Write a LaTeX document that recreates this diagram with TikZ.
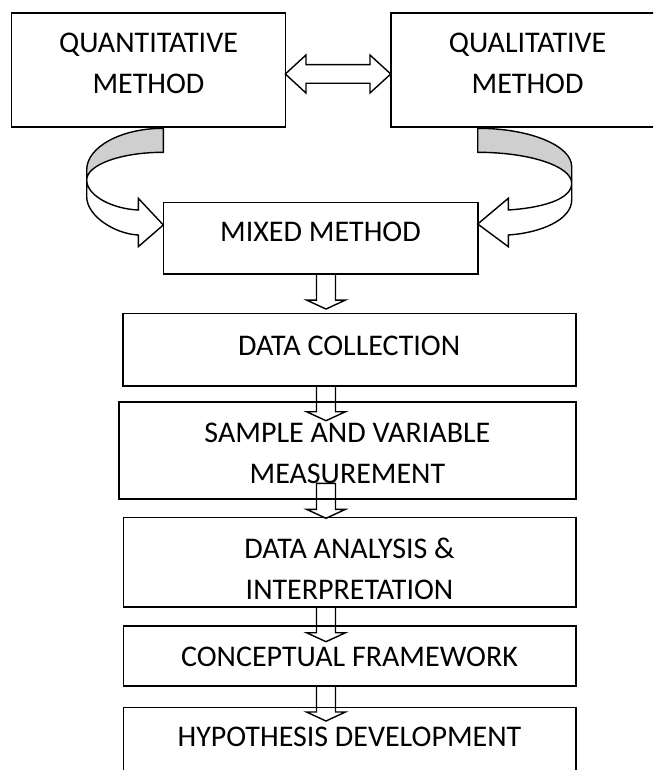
\documentclass[tikz,border=0pt]{standalone}
\usepackage{fontspec}
\setmainfont{Carlito}
\usetikzlibrary{calc}
\usetikzlibrary{positioning}

\tikzset{
  stage/.style={draw, line width=1.6pt, inner sep=0pt, outer sep=0pt},
  stagetext/.style={font=\fontsize{30}{41}\selectfont, align=center, inner sep=0pt},
  blockarrow/.style={draw, line width=1.4pt, line join=miter},
  foldback/.style={draw, line width=1.4pt, fill=gray!38},
  foldfront/.style={draw, line width=1.4pt, fill=white}
}

\begin{document}
\begin{tikzpicture}[x=1pt, y=-1pt]
    \clip (0,0) rectangle (653,770);
    % boxes
    \node[stage, minimum width=273.7pt, minimum height=114pt] (quant) at (148.5,70.3) {};
    \node[stage, minimum width=273.7pt, minimum height=114pt] (qual) at (527.6,70.3) {};
    \node[stage, minimum width=314.4pt, minimum height=71.7pt] (mixed) at (320.5,238.2) {};
    \node[stage, minimum width=453pt, minimum height=72.4pt] (collect) at (349.2,349.5) {};
    \node[stage, minimum width=456.7pt, minimum height=97pt] (sample) at (347.4,450.2) {};
    \node[stage, minimum width=452.4pt, minimum height=89.4pt] (analysis) at (349.5,562) {};
    \node[stage, minimum width=452.4pt, minimum height=60pt] (concept) at (349.5,656) {};
    \node[stage, minimum width=452.4pt, minimum height=90pt] (hypo) at (349.5,752.3) {};
    % texts, top aligned
    \node[stagetext, below=19.4pt of quant.north] (quantlbl) {QUANTITATIVE\\METHOD};
    \node[stagetext, below=19.4pt of qual.north] (quallbl) {QUALITATIVE\\METHOD};
    \node[stagetext, below=19.1pt of mixed.north] (mixedlbl) {MIXED METHOD};
    \node[stagetext, below=22.4pt of collect.north] (collectlbl) {DATA COLLECTION};
    \node[stagetext, below=21pt of sample.north] (samplelbl) {SAMPLE AND VARIABLE\\MEASUREMENT};
    \node[stagetext, below=20.4pt of analysis.north] (analysislbl) {DATA ANALYSIS \&\\INTERPRETATION};
    \node[stagetext, below=20.4pt of concept.north] (conceptlbl) {CONCEPTUAL FRAMEWORK};
    \node[stagetext, below=19.1pt of hypo.north] (hypolbl) {HYPOTHESIS DEVELOPMENT};
    % two-way arrow
    \coordinate (dl) at ([yshift=-3.7pt]quant.east);
    \coordinate (dr) at ([yshift=-3.7pt]qual.west);
    \draw[blockarrow] (dl) -- ++(20.6,-19) -- ++(0,9.7) -- ($(dr)+(-20.8,-9.3)$) -- ++(0,-9.7)
        -- (dr) -- ++(-20.8,19) -- ++(0,-9.7) -- ($(dl)+(20.6,9.3)$) -- ++(0,9.7) -- cycle;
    % curved arrows into the mixed method
    \coordinate (ltail) at ([yshift=-1pt]quant.south -| mixed.west);
    \coordinate (ltip) at ([yshift=13.2pt]mixed.west);
    \coordinate (rtail) at ([yshift=-1pt]qual.south -| mixed.east);
    \coordinate (rtip) at ([yshift=14.2pt]mixed.east);
    \draw[foldback] (ltail) .. controls (121,128.3) and (86.7,147) .. (86.7,170) -- (86.7,180)
        .. controls (86.7,164.7) and (121,152.3) .. (163.3,152.3) -- cycle;
    \draw[foldfront] (86.7,180) .. controls (86.7,196) and (113,209) .. (138.3,210) -- (138.3,198.3)
        -- (ltip) -- (138.3,246.7) -- (138.3,235) .. controls (115,234) and (86.7,216) .. (86.7,196.7) -- cycle;
    \draw[foldback] (rtail) .. controls (529.6,128.3) and (571.7,145.5) .. (571.7,166.7) -- (571.7,183.3)
        .. controls (571.7,166.2) and (529.6,152.3) .. (477.7,152.3) -- cycle;
    \draw[foldfront] (571.7,183.3) .. controls (571.7,200) and (540,208) .. (508.3,210) -- (508.3,198.3)
        -- (rtip) -- (508.3,246.7) -- (508.3,235) .. controls (540,233) and (571.7,220) .. (571.7,200) -- cycle;
    % down arrows
    \coordinate (axis) at (326,0);
    \coordinate (sampleout) at ([yshift=15.4pt]sample.south);
    \foreach \from in {mixed.south, collect.south, sampleout, analysis.south, concept.south}
      \draw[blockarrow] (\from -| axis) ++(-9.5,0) -- ++(0,26) -- ++(-10,0) -- ++(19.5,9)
          -- ++(19.5,-9) -- ++(-10,0) -- ++(0,-26) -- cycle;
\end{tikzpicture}
\end{document}
